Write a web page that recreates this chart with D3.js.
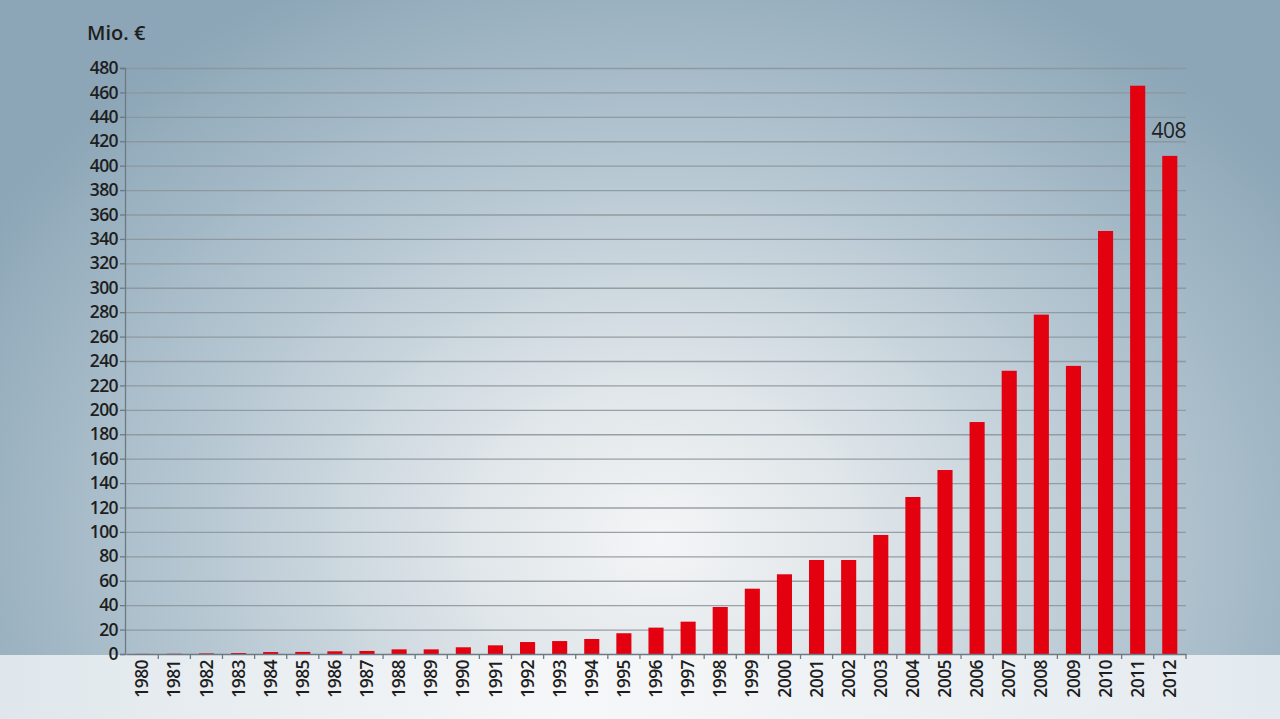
<!DOCTYPE html>
<html><head><meta charset="utf-8">
<script src="https://cdn.jsdelivr.net/npm/d3@7"></script>
<style>html,body{margin:0;padding:0;overflow:hidden;background:#fff}</style>
</head><body>
<svg id="c" width="1280" height="719"></svg>
<script>
const years = ["1980","1981","1982","1983","1984","1985","1986","1987","1988","1989","1990","1991","1992","1993","1994","1995","1996","1997","1998","1999","2000","2001","2002","2003","2004","2005","2006","2007","2008","2009","2010","2011","2012"];
const values = [0.1,0.2,0.5,0.8,1.6,1.7,2.2,2.5,3.8,3.8,5.5,7.1,9.8,10.6,12.3,17,21.6,26.5,38.5,53.5,65.3,77,77,97.5,128.6,150.7,190,232,278,236,346.5,465.5,408];
const yTicks = d3.range(0, 481, 20);
const unitLabel = "Mio. €";
const highlight = {year:"2012", text:"408"};

const svg = d3.select("#c");
const W = 1280, H = 719;
const defs = svg.append("defs");
const rg = defs.append("radialGradient").attr("id","bg").attr("gradientUnits","userSpaceOnUse")
  .attr("cx",660).attr("cy",540).attr("r",780).attr("gradientTransform","translate(660,540) scale(1,0.8) translate(-660,-540)");
rg.append("stop").attr("offset","0").attr("stop-color","#f4f5f6");
rg.append("stop").attr("offset","0.25").attr("stop-color","#e0e6ea");
rg.append("stop").attr("offset","0.6").attr("stop-color","#b6c7d2");
rg.append("stop").attr("offset","1").attr("stop-color","#8ca6b7");
svg.append("rect").attr("width",W).attr("height",H).attr("fill","url(#bg)");
const lg = defs.append("linearGradient").attr("id","floor").attr("x1",0).attr("x2",1).attr("y1",0).attr("y2",0);
lg.append("stop").attr("offset","0").attr("stop-color","#dfe7ec");
lg.append("stop").attr("offset","0.45").attr("stop-color","#f6f7f8");
lg.append("stop").attr("offset","1").attr("stop-color","#e3eaef");
svg.append("rect").attr("x",0).attr("y",655).attr("width",W).attr("height",H-655).attr("fill","url(#floor)");

const x = d3.scaleBand().domain(years).range([126,1186]).paddingInner(0.53).paddingOuter(0.27);
const y = d3.scaleLinear().domain([0,480]).range([654,68]);

// gridlines
svg.append("g").selectAll("line").data(yTicks.filter(d=>d>0)).join("line")
  .attr("x1",126).attr("x2",1186).attr("y1",d=>y(d)+0.5).attr("y2",d=>y(d)+0.5)
  .attr("stroke","#8b949a").attr("stroke-width",1.3).attr("opacity",0.85);

// bars
svg.append("g").selectAll("rect").data(years).join("rect")
  .attr("x",d=>x(d)).attr("width",x.bandwidth())
  .attr("y",(d,i)=>y(values[i])).attr("height",(d,i)=>y(0)-y(values[i]))
  .attr("fill","#e3000f");

// y axis
const ya = svg.append("g").attr("transform","translate(125,0)")
  .call(d3.axisLeft(y).tickValues(yTicks).tickSize(5).tickPadding(2).tickFormat(d3.format("d")));
ya.select(".domain").attr("stroke","#6d7a83").attr("stroke-width",1.3);
ya.selectAll(".tick line").attr("stroke","#6d7a83").attr("stroke-width",1.3);
ya.selectAll("text").attr("font-family","'Open Sans', sans-serif").attr("font-weight",600)
  .attr("font-size",17.5).attr("fill","#1e1e1e").attr("letter-spacing",-0.6);

// x axis
const xa = svg.append("g").attr("transform","translate(0,654)")
  .call(d3.axisBottom(x).tickSize(0).tickSizeOuter(0).tickPadding(0));
xa.select(".domain").attr("stroke","#6d7a83").attr("stroke-width",1.5);
xa.selectAll(".tick text").attr("transform","rotate(-90)").attr("text-anchor","end")
  .attr("x",-6).attr("y",0).attr("dy","0.35em")
  .attr("font-family","'Open Sans', sans-serif").attr("font-weight",600).attr("font-size",17.5)
  .attr("letter-spacing",-0.6).attr("fill","#1e1e1e");
// boundary ticks
svg.append("g").selectAll("line").data(years.slice(1).concat(["_end"])).join("line")
  .attr("x1",(d,i)=> i<years.length-1 ? x(d)-x.step()*x.paddingInner()/2 : 1186)
  .attr("x2",(d,i)=> i<years.length-1 ? x(d)-x.step()*x.paddingInner()/2 : 1186)
  .attr("y1",654).attr("y2",659).attr("stroke","#6d7a83").attr("stroke-width",1.3);

// unit label
svg.append("text").attr("x",87).attr("y",40).text(unitLabel)
  .attr("font-family","'Open Sans', sans-serif").attr("font-weight",600).attr("font-size",20).attr("fill","#1e1e1e");

// value label
const hi = years.indexOf(highlight.year);
svg.append("text").attr("x",x(highlight.year)+x.bandwidth()/2-1).attr("y",y(values[hi])-18)
  .attr("text-anchor","middle").text(highlight.text)
  .attr("font-family","'Open Sans', sans-serif").attr("font-size",21).attr("letter-spacing",-0.5).attr("fill","#222");
</script>
</body></html>
